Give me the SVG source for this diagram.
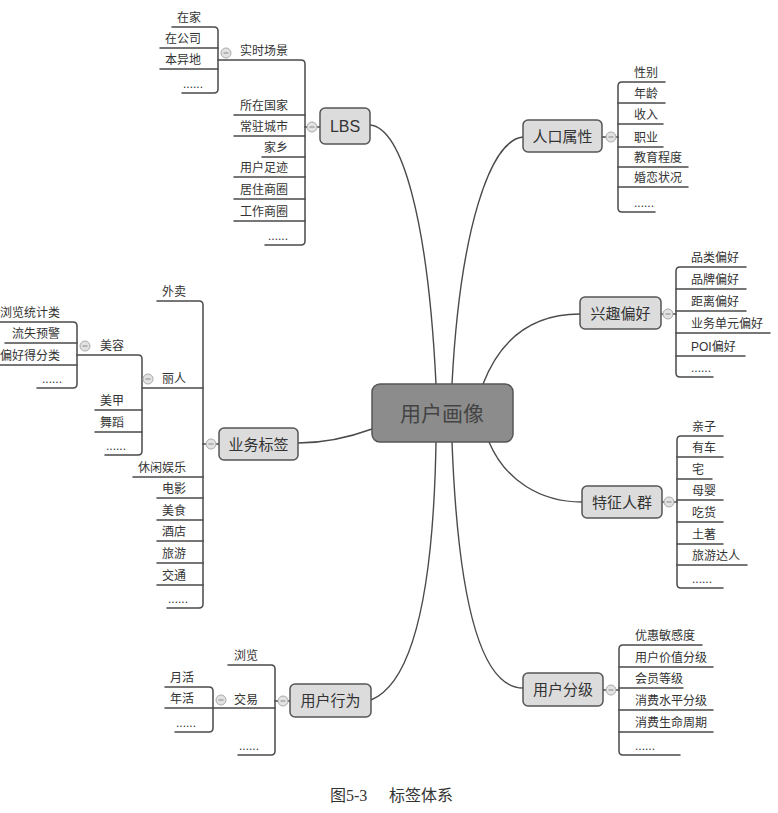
<svg xmlns="http://www.w3.org/2000/svg" width="778" height="813" viewBox="0 0 778 813">
<style>
.ln{fill:none;stroke:#4a4a4a;stroke-width:1.5;stroke-linecap:round}
.cv{fill:none;stroke:#4a4a4a;stroke-width:1.4}
.box{fill:#dcdcdc;stroke:#555;stroke-width:1.5}
.root{fill:#8c8c8c;stroke:#555;stroke-width:1.5}
.t{font-family:"Liberation Sans","Noto Sans CJK SC",sans-serif;font-size:12px;fill:#333}
.e{text-anchor:end}
.bt{font-family:"Liberation Sans","Noto Sans CJK SC",sans-serif;font-size:15px;fill:#333;text-anchor:middle}
.rt{font-family:"Liberation Sans","Noto Sans CJK SC",sans-serif;font-size:21px;fill:#444;text-anchor:middle}
.cap{font-family:"Liberation Serif","Noto Sans CJK SC",serif;font-size:16px;fill:#333}
.c{fill:#e2e2e2;stroke:#aaa;stroke-width:1}
.m{stroke:#888;stroke-width:1}
</style>
<defs>
<g id="col"><circle class="c" cx="0" cy="0" r="5"/><line class="m" x1="-2.5" y1="0" x2="2.5" y2="0"/></g>
</defs>
<rect width="778" height="813" fill="#fff"/>
<g id="connectors">
<path class="cv" d="M370,125 C402,128 428,220 436,384"/>
<path class="cv" d="M523,137 C490,140 460,230 452,384"/>
<path class="cv" d="M580,314 C530,314 500,340 483,384"/>
<path class="cv" d="M372,429 C342,440 320,443 298,443"/>
<path class="cv" d="M489,442 C505,480 540,502 582,502"/>
<path class="cv" d="M436,442 C434,560 420,680 371,700"/>
<path class="cv" d="M452,442 C458,600 480,688 523,688"/>
</g>
<g id="root"><rect class="root" x="372" y="384" width="141" height="58" rx="8"/><text class="rt" x="442" y="421">用户画像</text></g>
<g id="lbs">
<path class="ln" d="M218,60 H301 Q305,60 305,64 V241 Q305,245 301,245 H265"/>
<path class="ln" d="M234,115 H305 M234,136 H305 M262,157 H305 M234,177 H305 M234,199 H305 M234,221 H305 M305,127 H320"/>
<use href="#col" x="312" y="127"/>
<rect class="box" x="320" y="108" width="50" height="36" rx="5"/><text class="bt" x="345" y="132" style="font-size:16px">LBS</text>
<text class="t e" x="288" y="55">实时场景</text>
<text class="t e" x="288" y="110">所在国家</text>
<text class="t e" x="288" y="131">常驻城市</text>
<text class="t e" x="288" y="152">家乡</text>
<text class="t e" x="288" y="172">用户足迹</text>
<text class="t e" x="288" y="194">居住商圈</text>
<text class="t e" x="288" y="216">工作商圈</text>
<text class="t e" x="288" y="240">......</text>
</g>
<g id="scene">
<path class="ln" d="M172,27 H214 Q218,27 218,31 V89 Q218,93 214,93 H182"/>
<path class="ln" d="M160,48 H218 M160,69 H218"/>
<use href="#col" x="226" y="53"/>
<text class="t e" x="201" y="22">在家</text>
<text class="t e" x="201" y="43">在公司</text>
<text class="t e" x="201" y="64">本异地</text>
<text class="t e" x="203" y="88">......</text>
</g>
<g id="demo">
<path class="ln" d="M665,82 H622 Q618,82 618,86 V208 Q618,212 622,212 H655"/>
<path class="ln" d="M618,103 H665 M618,124 H663 M618,147 H663 M618,167 H688 M618,187 H688 M602,137 H618"/>
<use href="#col" x="611" y="137"/>
<rect class="box" x="523" y="120" width="79" height="32" rx="5"/><text class="bt" x="562.5" y="141.5">人口属性</text>
<text class="t" x="634" y="77">性别</text>
<text class="t" x="634" y="98">年龄</text>
<text class="t" x="634" y="119">收入</text>
<text class="t" x="634" y="142">职业</text>
<text class="t" x="634" y="162">教育程度</text>
<text class="t" x="634" y="182">婚恋状况</text>
<text class="t" x="634" y="207">......</text>
</g>
<g id="interest">
<path class="ln" d="M746,267 H680 Q676,267 676,271 V373 Q676,377 680,377 H713"/>
<path class="ln" d="M676,289 H746 M676,311 H746 M676,333 H770 M676,356 H745 M661,314 H676"/>
<use href="#col" x="668" y="314"/>
<rect class="box" x="580" y="297" width="81" height="32" rx="5"/><text class="bt" x="620.5" y="318.5">兴趣偏好</text>
<text class="t" x="691" y="262">品类偏好</text>
<text class="t" x="691" y="284">品牌偏好</text>
<text class="t" x="691" y="306">距离偏好</text>
<text class="t" x="691" y="328">业务单元偏好</text>
<text class="t" x="691" y="351">POI偏好</text>
<text class="t" x="691" y="372">......</text>
</g>
<g id="group">
<path class="ln" d="M723,436 H681 Q677,436 677,440 V584 Q677,588 681,588 H723"/>
<path class="ln" d="M677,457 H723 M677,479 H712 M677,500 H723 M677,522 H723 M677,544 H723 M677,565 H747 M662,502 H677"/>
<use href="#col" x="669" y="502"/>
<rect class="box" x="582" y="486" width="80" height="32" rx="5"/><text class="bt" x="622" y="507.5">特征人群</text>
<text class="t" x="692" y="431">亲子</text>
<text class="t" x="692" y="452">有车</text>
<text class="t" x="692" y="474">宅</text>
<text class="t" x="692" y="495">母婴</text>
<text class="t" x="692" y="517">吃货</text>
<text class="t" x="692" y="539">土著</text>
<text class="t" x="692" y="560">旅游达人</text>
<text class="t" x="692" y="583">......</text>
</g>
<g id="level">
<path class="ln" d="M702,645 H623 Q619,645 619,649 V751 Q619,755 623,755 H680"/>
<path class="ln" d="M619,667 H713 M619,688 H683 M619,710 H713 M619,732 H713 M603,690 H619"/>
<use href="#col" x="611" y="690"/>
<rect class="box" x="523" y="673" width="80" height="33" rx="5"/><text class="bt" x="563" y="695">用户分级</text>
<text class="t" x="635" y="640">优惠敏感度</text>
<text class="t" x="635" y="662">用户价值分级</text>
<text class="t" x="635" y="683">会员等级</text>
<text class="t" x="635" y="705">消费水平分级</text>
<text class="t" x="635" y="727">消费生命周期</text>
<text class="t" x="635" y="750">......</text>
</g>
<g id="biz">
<path class="ln" d="M157,301 H199 Q203,301 203,305 V604 Q203,608 199,608 H167"/>
<path class="ln" d="M142,388 H203 M133,477 H203 M157,498 H203 M157,520 H203 M157,541 H203 M157,563 H203 M157,585 H203 M203,444 H219"/>
<use href="#col" x="211" y="444"/>
<rect class="box" x="219" y="428" width="79" height="32" rx="5"/><text class="bt" x="258.5" y="449.5">业务标签</text>
<text class="t e" x="186" y="296">外卖</text>
<text class="t e" x="186" y="383">丽人</text>
<text class="t e" x="186" y="472">休闲娱乐</text>
<text class="t e" x="186" y="493">电影</text>
<text class="t e" x="186" y="515">美食</text>
<text class="t e" x="186" y="536">酒店</text>
<text class="t e" x="186" y="558">旅游</text>
<text class="t e" x="186" y="580">交通</text>
<text class="t e" x="188" y="603">......</text>
</g>
<g id="beauty">
<path class="ln" d="M77,355 H138 Q142,355 142,359 V451 Q142,455 138,455 H105"/>
<path class="ln" d="M95,410 H142 M95,432 H142"/>
<use href="#col" x="148" y="379"/>
<text class="t e" x="124" y="350">美容</text>
<text class="t e" x="124" y="405">美甲</text>
<text class="t e" x="124" y="427">舞蹈</text>
<text class="t e" x="126" y="450">......</text>
</g>
<g id="cosmetic">
<path class="ln" d="M0,322 H73 Q77,322 77,326 V384 Q77,388 73,388 H37"/>
<path class="ln" d="M5,343 H77 M0,365 H77"/>
<use href="#col" x="85" y="346"/>
<text class="t e" x="60" y="317">浏览统计类</text>
<text class="t e" x="60" y="338">流失预警</text>
<text class="t e" x="60" y="360">偏好得分类</text>
<text class="t e" x="62" y="383">......</text>
</g>
<g id="behavior">
<path class="ln" d="M228,665 H271 Q275,665 275,669 V751 Q275,755 271,755 H238"/>
<path class="ln" d="M213,708 H275 M275,701 H290"/>
<use href="#col" x="283" y="701"/>
<rect class="box" x="290" y="684" width="81" height="33" rx="5"/><text class="bt" x="330.5" y="706">用户行为</text>
<text class="t e" x="258" y="660">浏览</text>
<text class="t e" x="258" y="704">交易</text>
<text class="t e" x="259" y="750">......</text>
</g>
<g id="trade">
<path class="ln" d="M165,687 H209 Q213,687 213,691 V728 Q213,732 209,732 H175"/>
<path class="ln" d="M165,708 H213"/>
<use href="#col" x="221" y="700"/>
<text class="t e" x="194" y="682">月活</text>
<text class="t e" x="194" y="703">年活</text>
<text class="t e" x="196" y="727">......</text>
</g>
<g id="caption">
<text class="cap" x="330" y="801">图5-3</text>
<text class="cap" x="389" y="801">标签体系</text>
</g>
</svg>
